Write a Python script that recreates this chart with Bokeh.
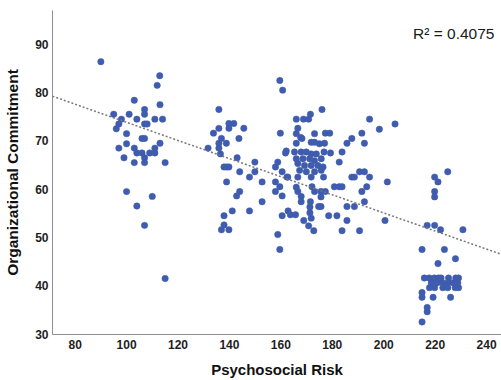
from bokeh.plotting import figure
from bokeh.models import FixedTicker, Label, ColumnDataSource, Range1d
from bokeh.embed import file_html
from bokeh.resources import INLINE

# ---- data ----
risk_low = [90, 112.9, 111.9, 103, 113, 107, 95, 101, 107, 98, 104, 111, 114, 107, 108, 97, 96,
            100, 106, 107, 113, 100, 97, 103, 111, 104, 106, 109, 111, 99, 107, 103, 107, 115,
            100, 110, 104, 107, 115]
commit_low = [86.4, 83.5, 81.5, 78.4, 77.5, 76.5, 75.5, 75.5, 75.5, 74.5, 74.5, 74.5, 74.5, 73.5,
              73.5, 73.5, 72.5, 71.5, 70.5, 70.5, 69.5, 69.4, 68.5, 68.5, 68.5, 67.5, 67.5, 67.5,
              67.5, 66.5, 66.5, 65.5, 65.5, 65.5, 59.5, 58.5, 56.5, 52.5, 41.5]

risk_mid = [159.6, 160.7, 135.9, 139.8, 141.7, 135.9, 139.8, 145.6, 133.8, 159.8, 136.9, 143.7,
            135.9, 138.8, 131.7, 135.9, 136.5, 161.8, 143, 149.9, 158.8, 137.9, 138.9, 139.8,
            157.9, 149.9, 144, 160.5, 162.4, 147.8, 138.9, 152.7, 157.9, 159.6, 144, 142.8,
            157.9, 160.5, 152.7, 141.1, 147.8, 162.8, 163.7, 165.7, 137.9, 160.5, 137.9, 136.9,
            139.8, 158.8, 159.6]
commit_mid = [82.5, 80.5, 76.5, 73.6, 73.6, 72.6, 72.6, 72.6, 71.6, 71.6, 70.5, 70.5, 69.5, 69.5,
              68.5, 68.5, 67.3, 67.5, 66.5, 65.6, 65.6, 64.6, 64.6, 64.6, 64.6, 63.6, 63.6, 63.6,
              62.5, 62.5, 61.5, 61.5, 61.5, 60.5, 59.5, 58.6, 59.5, 58.6, 57.4, 55.5, 55.5, 55.5,
              54.7, 54.7, 54.5, 54.5, 52.6, 51.6, 51.6, 50.6, 47.5]

risk_main = [167.7, 171.8, 173.1, 175.0, 162.1, 165.3, 167.9, 169.9, 171.8, 173.8, 176.8, 166.0,
             168.6, 171.2, 173.1, 175.7, 166.6, 169.2, 171.8, 174.4, 176.4, 167.3, 169.9, 173.1,
             175.7, 162.7, 166.6, 171.8,
             176.0, 166.0, 168.8, 170.8, 171.5, 166.6, 166.0, 173.1, 177.3, 179.0, 168.2, 166.0,
             177.0, 179.3,
             194.5, 204.4, 198.3, 191.5, 187.6, 185.7, 192.5, 183.8, 182.7, 190.6, 192.5, 187.6,
             188.6, 194.5, 176.6, 201.4, 193.4, 180.8, 182.7, 183.8, 172.1, 191.5, 175.6, 177.3,
             175.6, 192.5, 174.7, 175.6, 185.7, 188.6, 178.6, 181.8, 185.7, 200.5, 168.9, 170.8,
             172.8, 183.8, 190.6,
             166.0, 166.6, 167.9, 167.9, 173.1, 171.5, 171.3, 171.3, 171.8]
commit_main = [70.7, 69.7, 69.7, 69.4, 67.9, 67.7, 67.7, 67.7, 67.3, 67.3, 67.7, 66.3,
               66.3, 66.3, 65.9, 66.3, 65.3, 64.9, 64.9, 64.9, 64.6, 63.9, 63.6, 63.6,
               63.9, 62.5, 62.5, 62.5,
               76.5, 74.5, 74.5, 74.5, 75.5, 72.6, 71.5, 71.5, 71.6, 71.6, 70.5, 69.5,
               69.5, 67.5,
               74.5, 73.5, 72.4, 71.6, 70.5, 69.5, 69.5, 67.7, 65.6, 63.6, 63.6, 62.5,
               62.5, 62.5, 62.5, 61.5, 60.5, 60.5, 60.5, 60.5, 60.5, 59.5, 59.5, 59.5,
               58.4, 57.4, 56.4, 56.4, 56.4, 56.4, 54.5, 54.5, 53.5, 53.5, 53.5, 52.4,
               51.4, 51.4, 51.4,
               60.4, 59.5, 58.5, 57.4, 59.5, 57.4, 56.3, 55.1, 54.0]

risk_high = [224.9, 219.8, 221.1, 219.8, 219.8, 216.9, 219.8, 222.1, 230.8, 214.9, 223.6, 227.9,
             221.1,
             215.8, 217.7, 219.7, 221.3, 222.3, 225.2, 228.0, 229.1,
             218.5, 220.8, 223.0, 224.9, 226.9, 228.8,
             217.8, 219.8, 223.0, 224.9, 227.8, 229.1,
             214.9, 214.9, 219.2, 226.0, 216.9, 216.9, 214.9]
commit_high = [63.6, 62.5, 61.5, 59.5, 58.4, 52.5, 52.5, 51.6, 51.6, 47.5, 47.5, 45.6,
               44.6,
               41.6, 41.6, 41.6, 41.6, 41.6, 41.6, 41.6, 41.6,
               40.6, 40.6, 40.6, 40.6, 40.6, 40.6,
               39.6, 39.6, 39.6, 39.6, 39.6, 39.6,
               38.6, 37.6, 37.6, 37.6, 35.5, 34.6, 32.5]

fit_intercept = 92.6
fit_slope = -0.1876
r_squared_text = "R\u00b2 = 0.4075"

x_ticks = [80, 100, 120, 140, 160, 180, 200, 220, 240]
y_ticks = [30, 40, 50, 60, 70, 80, 90]
x_title = "Psychosocial Risk"
y_title = "Organizational Commitment"

risk = risk_low + risk_mid + risk_main + risk_high
commit = commit_low + commit_mid + commit_main + commit_high

# ---- figure ----
x0, x1 = 71.2, 245.8
p = figure(width=501, height=380, output_backend="svg", toolbar_location=None,
           x_range=Range1d(x0, x1), y_range=Range1d(29.9, 97),
           min_border_left=52, min_border_right=0, min_border_top=10, min_border_bottom=46)
p.background_fill_color = "white"
p.border_fill_color = "white"
p.outline_line_color = None
p.xgrid.visible = False
p.ygrid.visible = False

src = ColumnDataSource(dict(x=risk, y=commit))
p.scatter("x", "y", source=src, size=6.4, fill_color="#3F5CAE", line_color="#3F5CAE", line_width=0.5)

p.line(x=[x0, x1], y=[fit_intercept + fit_slope * x0, fit_intercept + fit_slope * x1],
       line_color="#777777", line_width=1.5, line_dash="2 2")

p.xaxis.ticker = FixedTicker(ticks=x_ticks)
p.yaxis.ticker = FixedTicker(ticks=y_ticks)
for ax in (p.xaxis[0], p.yaxis[0]):
    ax.axis_line_color = "#8f8f8f"
    ax.axis_line_width = 1
    ax.major_tick_line_color = None
    ax.minor_tick_line_color = None
    ax.major_tick_out = 0
    ax.major_tick_in = 0
    ax.major_label_text_font = "Liberation Sans"
    ax.major_label_text_font_style = "bold"
    ax.major_label_text_font_size = "12px"
    ax.major_label_text_color = "#1e1e1e"
    ax.major_label_standoff = 4
    ax.axis_label_text_font = "Liberation Sans"
    ax.axis_label_text_font_style = "bold"
    ax.axis_label_text_color = "#111111"

p.xaxis.axis_label = x_title
p.yaxis.axis_label = y_title
p.xaxis.axis_label_text_font_size = "15px"
p.yaxis.axis_label_text_font_size = "15.5px"
p.xaxis.axis_label_standoff = 9
p.yaxis.axis_label_standoff = 11
p.xaxis.major_label_standoff = 5

p.add_layout(Label(x=211.4, y=92.2, text=r_squared_text, text_font="Liberation Sans",
                   text_font_size="15.5px", text_baseline="middle", text_color="#1a1a1a"))

open("out.html", "w").write(file_html(p, INLINE))
